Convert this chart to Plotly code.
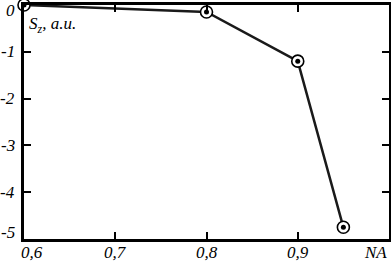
import plotly.graph_objects as go

na = [0.6, 0.8, 0.9, 0.95]
sz = [0.0, -0.15, -1.2, -4.75]
x_tick_vals = [0.6, 0.7, 0.8, 0.9, 1.0]
x_tick_text = ["0,6", "0,7", "0,8", "0,9", "NA"]
y_tick_vals = [0, -1, -2, -3, -4, -5]
y_tick_text = ["0", "-1", "-2", "-3", "-4", "-5"]

FONT = "Liberation Serif"
TF = dict(family=FONT, size=17, style="italic", color="black")

fig = go.Figure()
fig.add_trace(go.Scatter(
    x=na, y=sz, mode="lines+markers",
    line=dict(color="#1a1a1a", width=2.5),
    marker=dict(symbol="circle", size=12, color="white",
                line=dict(color="black", width=1.6)),
    cliponaxis=False,
))
fig.add_trace(go.Scatter(
    x=na, y=sz, mode="markers",
    marker=dict(symbol="circle", size=5, color="black", line=dict(width=0)),
    cliponaxis=False,
))

fig.update_layout(
    width=391, height=263,
    margin=dict(l=24, r=2, t=5, b=24, autoexpand=False),
    paper_bgcolor="white", plot_bgcolor="white",
    showlegend=False,
    font=dict(family=FONT, size=17, color="black"),
)
fig.update_xaxes(
    range=[0.6, 1.0], tickvals=x_tick_vals, showticklabels=False,
    ticks="inside", ticklen=7, tickwidth=1.5, tickcolor="black",
    showline=True, linecolor="black", linewidth=2.5, mirror="ticks",
    showgrid=False, zeroline=False, automargin=False,
)
fig.update_yaxes(
    range=[-5, 0], tickvals=y_tick_vals, showticklabels=False,
    ticks="inside", ticklen=7, tickwidth=1.5, tickcolor="black",
    showline=True, linecolor="black", linewidth=2.5, mirror="ticks",
    showgrid=False, zeroline=False, automargin=False,
)

n = len(x_tick_vals)
for i, (v, t) in enumerate(zip(x_tick_vals, x_tick_text)):
    if i == 0:
        anchor, dx = "left", -5
    elif i == n - 1:
        anchor, dx = "right", 0
    else:
        anchor, dx = "center", 0
    fig.add_annotation(x=v, y=0, xref="x", yref="paper", yshift=-2, xshift=dx,
                       text=t, showarrow=False, xanchor=anchor, yanchor="top",
                       font=TF)

m = len(y_tick_vals)
for i, (v, t) in enumerate(zip(y_tick_vals, y_tick_text)):
    if i == 0:
        anchor, dy = "middle", -5
    elif i == m - 1:
        anchor, dy = "middle", 7
    else:
        anchor, dy = "middle", 0
    fig.add_annotation(x=0, y=v, xref="paper", yref="y", xshift=-7, yshift=dy,
                       text=t, showarrow=False, xanchor="right", yanchor=anchor,
                       font=TF)

fig.add_annotation(x=0.6, y=-0.15, xref="x", yref="y", xshift=3,
                   text="S<sub>z</sub>, a.u.", showarrow=False,
                   xanchor="left", yanchor="top",
                   font=dict(family=FONT, size=17, style="italic", color="black"))

fig.write_html("out.html", config={"displayModeBar": False},
               post_script="document.body.style.margin='0';document.body.style.padding='0';")
